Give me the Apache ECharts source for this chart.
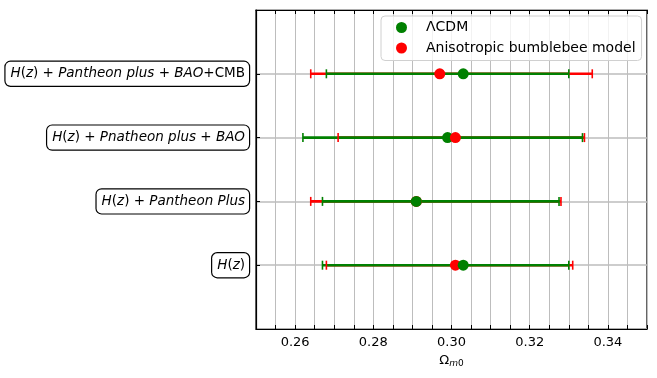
<!DOCTYPE html>
<html>
<head>
<meta charset="utf-8">
<script src="https://cdn.jsdelivr.net/npm/echarts@6/dist/echarts.min.js"></script>
<style>
  html, body { margin: 0; padding: 0; background: #fff; }
  #container { width: 657px; height: 378px; }
</style>
</head>
<body>
<div id="container"></div>
<script>
var dom = document.getElementById('container');
var myChart = echarts.init(dom, null, { renderer: 'canvas' });

// rows from bottom (0) to top (3)
var rowLabels = [
    '{i|H}{n|(}{i|z}{n|)}',
    '{i|H}{n|(}{i|z}{n|) + }{i|Pantheon Plus}',
    '{i|H}{n|(}{i|z}{n|) + }{i|Pnatheon plus}{n| + }{i|BAO}',
    '{i|H}{n|(}{i|z}{n|) + }{i|Pantheon plus}{n| + }{i|BAO}{n|+CMB}'
];

// ΛCDM
var lcdmBest = [0.303, 0.291, 0.299, 0.303];
var lcdmLow = [0.267, 0.267, 0.262, 0.268];
var lcdmHigh = [0.330, 0.3275, 0.3335, 0.330];

// Anisotropic bumblebee model
var bbBest = [0.301, 0.291, 0.301, 0.297];
var bbLow = [0.268, 0.264, 0.271, 0.264];
var bbHigh = [0.331, 0.328, 0.334, 0.336];

var GREEN = '#008000';
var RED = '#ff0000';
var FONT = 'DejaVu Sans';

function barData(low, high) {
    return low.map(function (lo, i) { return [i, lo, high[i]]; });
}
function dotData(best, rows) {
    var out = [];
    best.forEach(function (v, i) {
        if (!rows || rows.indexOf(i) >= 0) out.push([v, i]);
    });
    return out;
}

function barRenderer(color, part) {
    return function (params, api) {
        var y = api.value(0);
        var p1 = api.coord([api.value(1), y]);
        var p2 = api.coord([api.value(2), y]);
        if (part === 'line') {
            return {
                type: 'line',
                shape: { x1: p1[0], y1: p1[1], x2: p2[0], y2: p2[1] },
                style: { stroke: color, lineWidth: 2.6 }
            };
        }
        var h = 4.5;
        return {
            type: 'group',
            children: [
                { type: 'line', shape: { x1: p1[0], y1: p1[1] - h, x2: p1[0], y2: p1[1] + h }, style: { stroke: color, lineWidth: 1.6 } },
                { type: 'line', shape: { x1: p2[0], y1: p2[1] - h, x2: p2[0], y2: p2[1] + h }, style: { stroke: color, lineWidth: 1.6 } }
            ]
        };
    };
}

function barSeries(name, low, high, color, part) {
    return {
        name: name,
        type: 'custom',
        renderItem: barRenderer(color, part),
        encode: { x: [1, 2], y: 0 },
        data: barData(low, high),
        silent: true
    };
}

function dotSeries(name, best, color, rows) {
    return {
        name: name,
        type: 'scatter',
        symbol: 'circle',
        symbolSize: 11,
        itemStyle: { color: color, opacity: 1 },
        data: dotData(best, rows),
        silent: true
    };
}

var option = {
    animation: false,
    grid: { left: 256, right: 10, top: 10, bottom: 49, show: true, borderColor: '#000', borderWidth: 1.2 },
    legend: {
        data: ['ΛCDM', 'Anisotropic bumblebee model'],
        orient: 'vertical',
        left: 381,
        top: 16,
        icon: 'circle',
        itemWidth: 11,
        itemHeight: 11,
        itemGap: 6.5,
        padding: [4.5, 6, 5.5, 15],
        borderColor: '#d0d0d0',
        borderWidth: 1,
        borderRadius: 4,
        backgroundColor: 'rgba(255,255,255,0.8)',
        textStyle: { fontFamily: FONT, fontSize: 14, color: '#000', padding: [0, 0, 0, 14] }
    },
    xAxis: [{
        type: 'value',
        min: 0.25,
        max: 0.35,
        interval: 0.005,
        position: 'bottom',
        name: '{o|Ω}{m|m}{z|0}',
        nameLocation: 'middle',
        nameGap: 24,
        nameTextStyle: {
            rich: {
                o: { fontFamily: FONT, fontSize: 13, color: '#000' },
                m: { fontFamily: FONT, fontSize: 9, fontStyle: 'italic', color: '#000', padding: [6, 0, 0, 0] },
                z: { fontFamily: FONT, fontSize: 9, color: '#000', padding: [6, 0, 0, 0] }
            }
        },
        axisLine: { show: true, onZero: false, lineStyle: { color: '#000', width: 1.2 } },
        axisTick: { show: true, inside: true, length: 4, lineStyle: { color: '#000' } },
        axisLabel: {
            fontFamily: FONT, fontSize: 13, color: '#000', margin: 7,
            formatter: function (v) {
                return Math.round(v * 1000) % 20 === 0 ? v.toFixed(2) : '';
            }
        },
        splitLine: { show: true, lineStyle: { color: '#bdbdbd', width: 1 } }
    }, {
        type: 'value',
        min: 0.25,
        max: 0.35,
        interval: 0.005,
        position: 'top',
        axisLine: { show: true, onZero: false, lineStyle: { color: '#000', width: 1.2 } },
        axisTick: { show: true, inside: true, length: 4, lineStyle: { color: '#000' } },
        axisLabel: { show: false },
        splitLine: { show: false }
    }],
    yAxis: [{
        type: 'value',
        min: -1,
        max: 4,
        interval: 1,
        axisLine: { show: true, onZero: false, lineStyle: { color: '#000', width: 1.2 } },
        axisTick: { show: true, inside: true, length: 4, lineStyle: { color: '#000' } },
        splitLine: { show: true, lineStyle: { color: '#bdbdbd', width: 1.5 } },
        axisLabel: {
            margin: 7,
            formatter: function (v) {
                return (v >= 0 && v < rowLabels.length) ? rowLabels[v] : '';
            },
            borderColor: '#000',
            borderWidth: 1.2,
            borderRadius: 5,
            padding: [4, 4, 4, 5],
            backgroundColor: '#fff',
            rich: {
                i: { fontFamily: FONT, fontSize: 13.5, fontStyle: 'italic', color: '#000', lineHeight: 16 },
                n: { fontFamily: FONT, fontSize: 13.5, color: '#000', lineHeight: 16 }
            }
        }
    }],
    series: [
        barSeries('bb-bar', bbLow, bbHigh, RED, 'line'),
        barSeries('lcdm-bar', lcdmLow, lcdmHigh, GREEN, 'line'),
        barSeries('bb-cap', bbLow, bbHigh, RED, 'cap'),
        barSeries('lcdm-cap', lcdmLow, lcdmHigh, GREEN, 'cap'),
        dotSeries('ΛCDM', lcdmBest, GREEN, [2, 3]),
        dotSeries('Anisotropic bumblebee model', bbBest, RED),
        dotSeries('ΛCDM', lcdmBest, GREEN, [0, 1])
    ]
};

myChart.setOption(option);
</script>
</body>
</html>
